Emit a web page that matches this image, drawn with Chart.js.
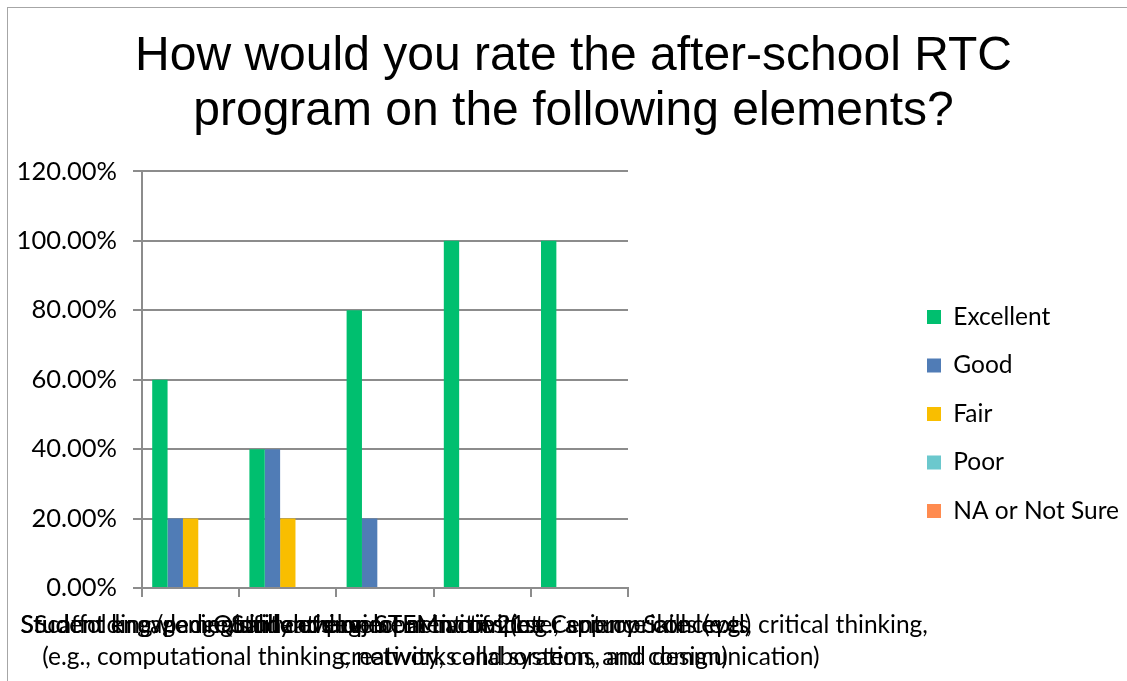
<!DOCTYPE html>
<html>
<head>
<meta charset="utf-8">
<script src="https://cdn.jsdelivr.net/npm/chart.js@4"></script>
<style>
  html, body { margin: 0; padding: 0; background: #ffffff; overflow: hidden; }
  #frame { position: absolute; left: 7px; top: 7px; width: 1200px; height: 700px;
           border-top: 1px solid #a6a6a6; border-left: 1px solid #a6a6a6; }
  #c { position: absolute; left: 0; top: 0; }
</style>
</head>
<body>
<div id="frame"><canvas id="c" width="1131" height="673"></canvas></div>
<script>
const titleLines = ["How would you rate the after-school RTC", "program on the following elements?"];
const categories = [
  ["Student engagement in learning"],
  ["Scaffolding/pacing of hands-on STEM activities"],
  ["Student knowledge/skill development in computer science concepts", "(e.g., computational thinking, networks and systems, and design)"],
  ["Quality of project activities (e.g., appropriate level)"],
  ["Student development of 21st Century Skills (e.g., critical thinking,", "creativity, collaboration, and communication)"]
];
const seriesNames = ["Excellent", "Good", "Fair", "Poor", "NA or Not Sure"];
const excellent = [0.60, 0.40, 0.80, 1.00, 1.00];
const good      = [0.20, 0.40, 0.20, 0.00, 0.00];
const fair      = [0.20, 0.20, 0.00, 0.00, 0.00];
const poor      = [0.00, 0.00, 0.00, 0.00, 0.00];
const naNotSure = [0.00, 0.00, 0.00, 0.00, 0.00];
const seriesColors = ["#00BF6F", "#507CB6", "#F9BE00", "#6BC8CD", "#FF8B4F"];
const yTicks = [0, 0.2, 0.4, 0.6, 0.8, 1.0, 1.2];

const gridGray = "#8c8c8c";
const textFont = "Lato";

const legendPlacer = {
  id: "legendPlacer",
  afterLayout(chart) {
    const L = chart.legend;
    if (!L) return;
    const w = L.width, h = L.height;
    L.left = 895; L.right = 895 + w;
    L.top = 406 - h / 2; L.bottom = L.top + h;
  }
};

const seriesData = [excellent, good, fair, poor, naNotSure];

new Chart(document.getElementById("c"), {
  type: "bar",
  data: {
    labels: categories,
    datasets: seriesNames.map((name, i) => ({
      label: name,
      data: seriesData[i],
      backgroundColor: seriesColors[i],
      borderWidth: 0,
      categoryPercentage: 0.79,
      barPercentage: 1.0
    }))
  },
  options: {
    responsive: false,
    animation: false,
    layout: { padding: 0 },
    plugins: {
      title: {
        display: true,
        text: titleLines,
        color: "#000000",
        font: { family: "Liberation Sans", size: 48, weight: "normal", lineHeight: 1.15 },
        padding: { top: 21, bottom: 32 }
      },
      legend: {
        position: "chartArea",
        align: "center",
        labels: {
          boxWidth: 14,
          boxHeight: 14,
          padding: 24,
          color: "#000000",
          font: { family: textFont, size: 24.5 }
        }
      },
      tooltip: { enabled: false }
    },
    scales: {
      x: {
        grid: { display: true, drawOnChartArea: false, drawTicks: true, tickLength: 9, color: gridGray, lineWidth: 2, offset: true },
        border: { display: true, color: gridGray, width: 2 },
        ticks: {
          autoSkip: false, maxRotation: 0, minRotation: 0, padding: 12,
          color: "#000000",
          font: { family: textFont, size: 24.5, lineHeight: 1.32 }
        },
        afterFit(scale) { scale.height = 93; scale.paddingLeft = 0; scale.paddingRight = 0; }
      },
      y: {
        position: "left",
        min: 0, max: 1.2,
        afterBuildTicks(scale) { scale.ticks = yTicks.map(v => ({ value: v })); },
        grid: { color: gridGray, lineWidth: 2, tickLength: 9, drawTicks: true },
        border: { display: true, color: gridGray, width: 2 },
        ticks: {
          padding: 16,
          color: "#000000",
          font: { family: textFont, size: 25.5 },
          callback: (v) => (v * 100).toFixed(2) + "%"
        },
        afterFit(scale) { scale.width = 134; }
      },
      spacer: {
        type: "linear",
        position: "right",
        display: true,
        grid: { display: false, drawTicks: false },
        border: { display: false },
        ticks: { display: false },
        afterFit(scale) { scale.width = 511; }
      }
    }
  },
  plugins: [legendPlacer]
});
</script>
</body>
</html>
